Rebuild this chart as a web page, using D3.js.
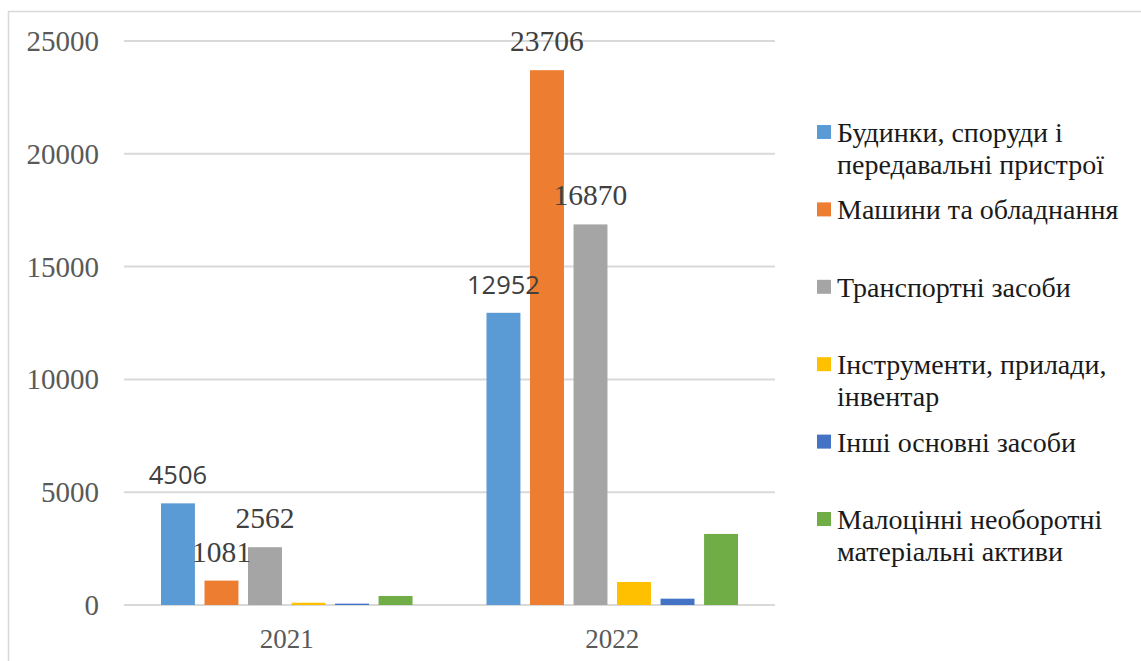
<!DOCTYPE html>
<html>
<head>
<meta charset="utf-8">
<script src="https://cdn.jsdelivr.net/npm/d3@7"></script>
<style>
  body { margin: 0; background: #fff; }
  svg { display: block; }
</style>
</head>
<body>
<svg id="chart" width="1141" height="661"></svg>
<script>
// categories and series
const years = ['2021', '2022'];
const seriesNames = [
    ['Будинки, споруди і', 'передавальні пристрої'],
    ['Машини та обладнання'],
    ['Транспортні засоби'],
    ['Інструменти, прилади,', 'інвентар'],
    ['Інші основні засоби'],
    ['Малоцінні необоротні', 'матеріальні активи']
];
const colors = ['#5b9bd5', '#ed7d31', '#a5a5a5', '#ffc000', '#4472c4', '#70ad47'];
const values2021 = [4506, 1081, 2562, 100, 60, 400];
const values2022 = [12952, 23706, 16870, 1020, 280, 3150];
const yTicks = [0, 5000, 10000, 15000, 20000, 25000];
// which series get a value label, and which labels use the sans font
const labelled = [true, true, true, false, false, false];
const sansLabel = { '2021-0': true, '2022-0': true };

const SERIF = "Liberation Serif";
const SANS = "Open Sans";

let svg = d3.select('#chart');

// outer frame
svg.append('rect')
    .attr('x', 8.5).attr('y', 11.5)
    .attr('width', 1160).attr('height', 700)
    .attr('fill', 'none')
    .attr('stroke', '#d9d9d9')
    .attr('stroke-width', 1.5);

let y = d3.scaleLinear().domain([0, 25000]).range([605, 41]);
let x0 = d3.scaleBand().domain(years).range([124, 775]);
let x1 = d3.scaleBand()
    .domain(d3.range(seriesNames.length))
    .range([0, x0.bandwidth()])
    .paddingInner(0.22)
    .paddingOuter(0.85);

// gridlines
svg.append('g')
    .selectAll('line')
    .data(yTicks)
    .join('line')
    .attr('x1', 124).attr('x2', 775)
    .attr('y1', d => y(d)).attr('y2', d => y(d))
    .attr('stroke', '#d9d9d9')
    .attr('stroke-width', 2);

// y tick labels
svg.append('g')
    .selectAll('text')
    .data(yTicks)
    .join('text')
    .attr('x', 99)
    .attr('y', d => y(d) + 10)
    .attr('text-anchor', 'end')
    .attr('font-family', SERIF)
    .attr('font-size', 29)
    .attr('fill', '#595959')
    .text(d => d);

// category labels
svg.append('g')
    .selectAll('text')
    .data(years)
    .join('text')
    .attr('x', d => x0(d) + x0.bandwidth() / 2)
    .attr('y', 648)
    .attr('text-anchor', 'middle')
    .attr('font-family', SERIF)
    .attr('font-size', 27)
    .attr('fill', '#595959')
    .text(d => d);

// bars
let rows = [];
years.forEach((yr, j) => {
    let vals = j === 0 ? values2021 : values2022;
    vals.forEach((v, i) => rows.push({ year: yr, i: i, value: v }));
});

svg.append('g')
    .selectAll('rect')
    .data(rows)
    .join('rect')
    .attr('x', d => x0(d.year) + x1(d.i))
    .attr('y', d => y(d.value))
    .attr('width', x1.bandwidth())
    .attr('height', d => y(0) - y(d.value))
    .attr('fill', d => colors[d.i]);

// value labels
svg.append('g')
    .selectAll('text')
    .data(rows.filter(d => labelled[d.i]))
    .join('text')
    .attr('x', d => x0(d.year) + x1(d.i) + x1.bandwidth() / 2)
    .attr('y', d => y(d.value) - 19)
    .attr('text-anchor', 'middle')
    .attr('font-family', d => sansLabel[d.year + '-' + d.i] ? SANS : SERIF)
    .attr('font-size', d => sansLabel[d.year + '-' + d.i] ? 25.5 : 29.5)
    .attr('fill', '#404040')
    .text(d => d.value);

// legend
let legend = svg.append('g').attr('transform', 'translate(817, 142)');
let item = legend.selectAll('g')
    .data(seriesNames)
    .join('g')
    .attr('transform', (d, i) => `translate(0, ${i * 77.4})`);

item.append('rect')
    .attr('x', 0).attr('y', -17)
    .attr('width', 14).attr('height', 14)
    .attr('fill', (d, i) => colors[i]);

item.append('text')
    .attr('font-family', SERIF)
    .attr('font-size', 28)
    .attr('fill', '#1a1a1a')
    .selectAll('tspan')
    .data(d => d)
    .join('tspan')
    .attr('x', 20)
    .attr('y', (d, k) => k * 32)
    .text(d => d);
</script>
</body>
</html>
